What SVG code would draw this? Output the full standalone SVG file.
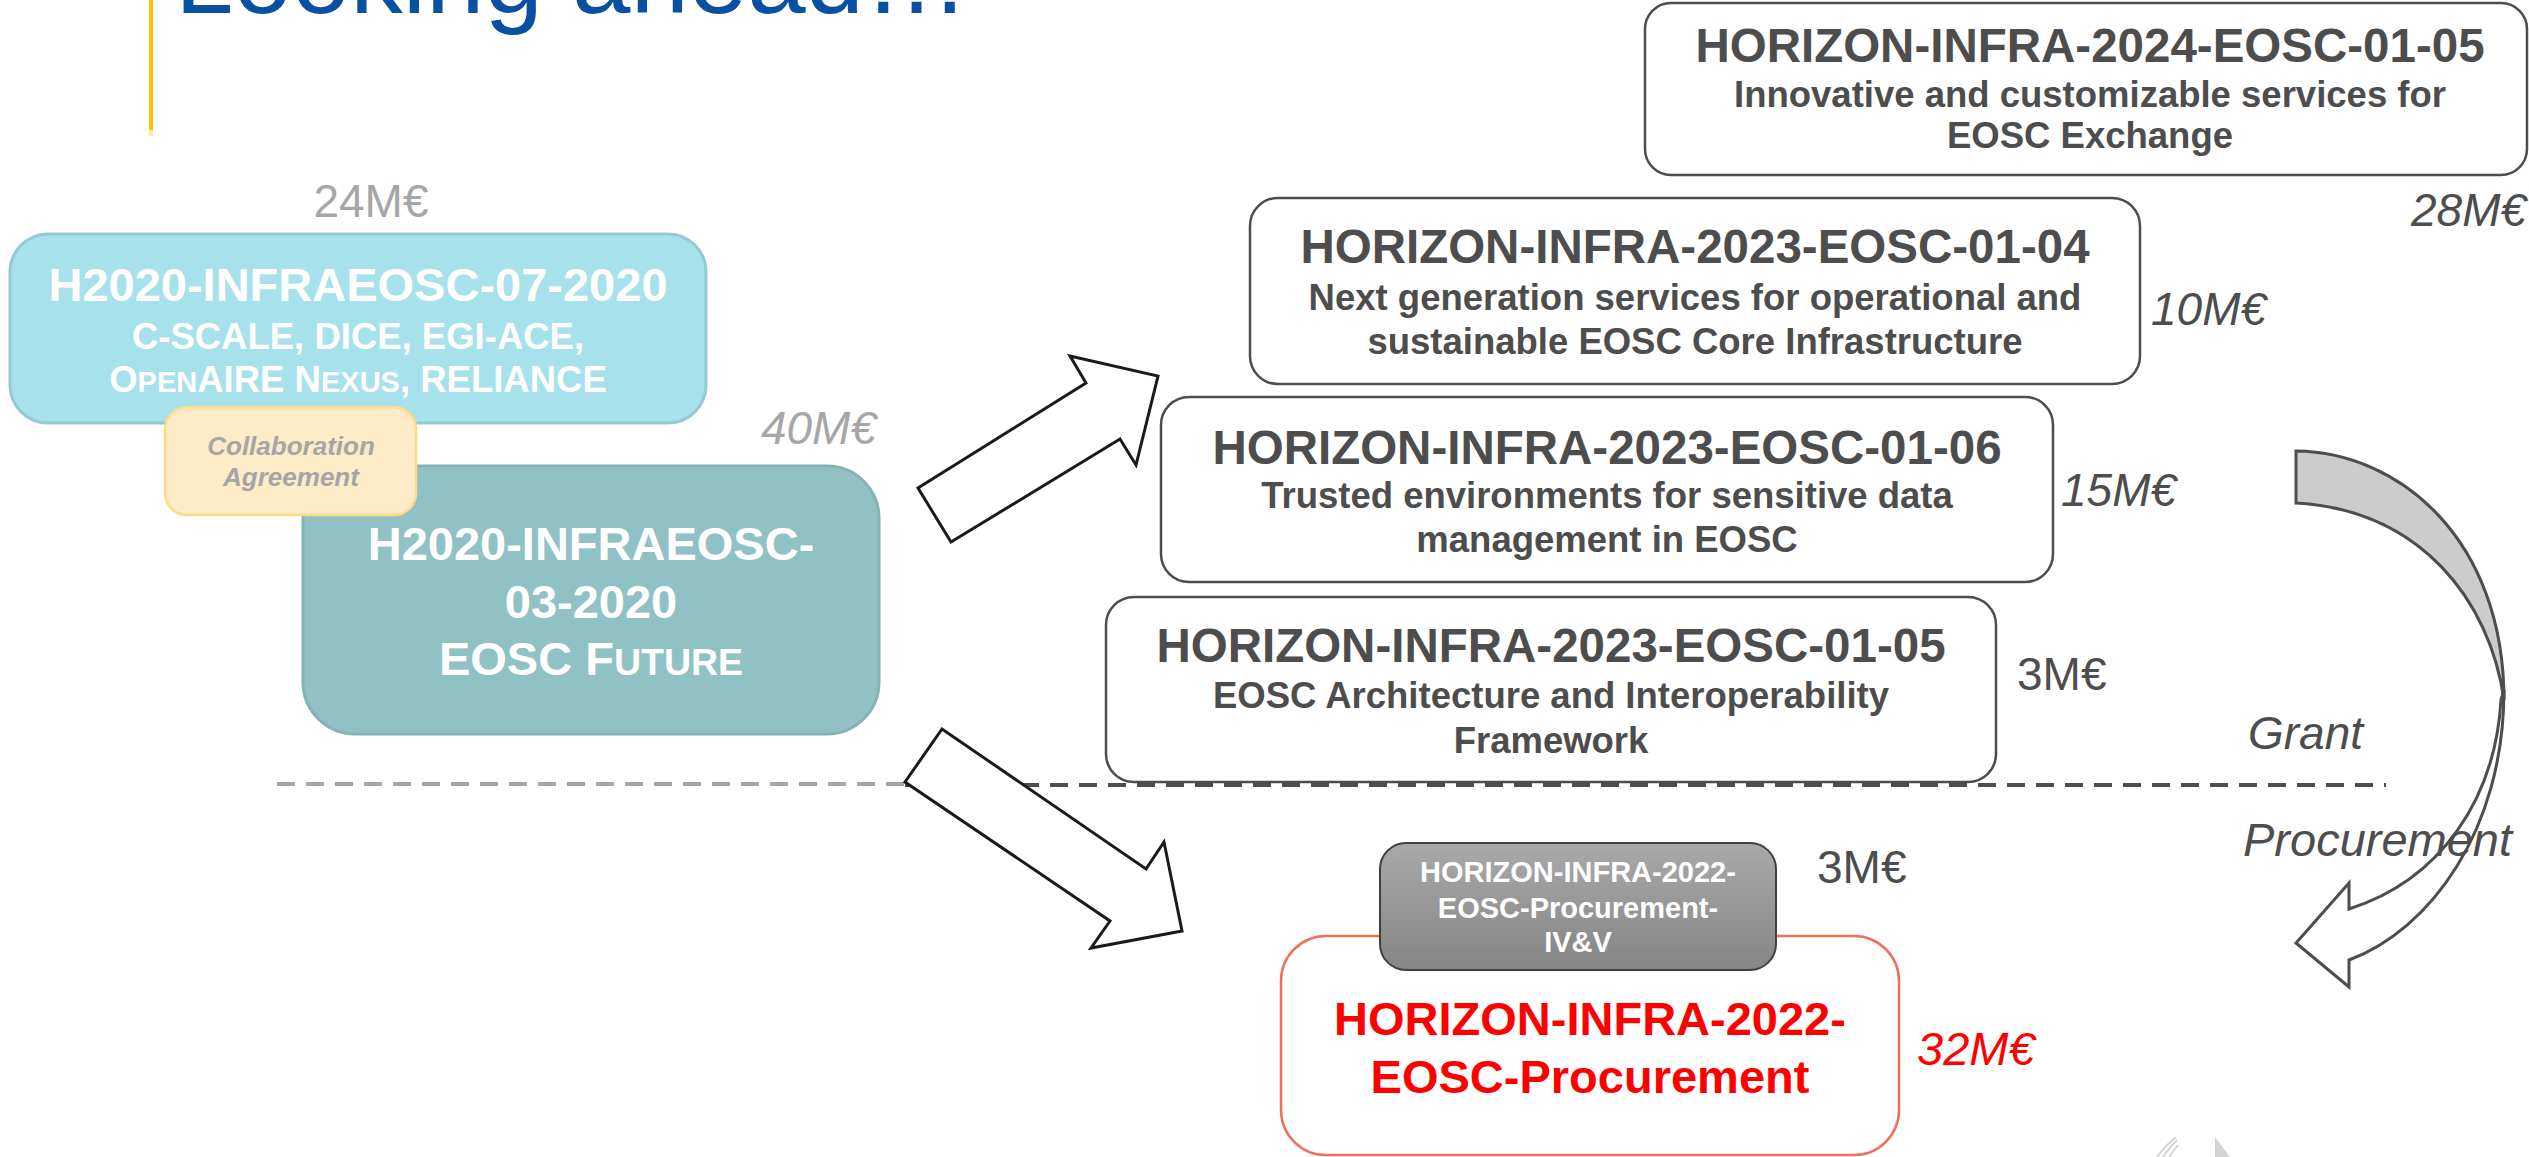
<svg xmlns="http://www.w3.org/2000/svg" width="2529" height="1157" viewBox="0 0 2529 1157">
<style>
text{font-family:"Liberation Sans",Arial,sans-serif}
.b{font-weight:bold}
.i{font-style:italic}
.wt{fill:#FFFFFF;font-weight:bold}
.gt{fill:#4D4D4D;font-weight:bold}
.box{fill:#FFFFFF;stroke:#4D4D4D;stroke-width:2.5}
.amt{fill:#4D4D4D;font-size:46px}
.blk{fill:#FFFFFF;stroke:#1A1A1A;stroke-width:3;stroke-linejoin:miter}
</style>
<defs>
<linearGradient id="gg" x1="0" y1="0" x2="0" y2="1">
<stop offset="0" stop-color="#A9A9A9"/>
<stop offset="1" stop-color="#858585"/>
</linearGradient>
</defs>
<rect x="0" y="0" width="2529" height="1157" fill="#FFFFFF"/>

<g id="title">
<rect x="149" y="0" width="4" height="130" fill="#FFC000"/>
<rect x="149" y="130" width="4" height="6" fill="#FFE9A6"/>
<text x="175" y="13" font-size="105" fill="#0A50A1">Looking ahead…</text>
</g>

<g id="connectors">
<line x1="277" y1="784" x2="905" y2="784" stroke="#A6A6A6" stroke-width="4" stroke-dasharray="18 11"/>
<line x1="905" y1="785" x2="2386" y2="785" stroke="#4D4D4D" stroke-width="4" stroke-dasharray="18 11"/>
<polygon class="blk" points="951,542 918,488 1086,383 1070,356 1158,376 1136,465 1120,439"/>
<polygon class="blk" points="942,729 905,782 1110,921 1091,948 1182,931 1164,842 1146,869"/>
<path d="M2504,690 C2504,830 2430,930 2349,960 L2349,987 L2296,943 L2349,883 L2349,909 C2440,880 2495,800 2501,700 Z" fill="#FFFFFF" stroke="#4D4D4D" stroke-width="3"/>
<path d="M2296,451 C2400,452 2504,540 2504,700 C2490,600 2420,510 2296,503 Z" fill="#CCCCCC" stroke="#4D4D4D" stroke-width="3"/>
</g>

<g id="label-grant">
<text x="2248" y="749" font-size="46" class="i" fill="#4D4D4D">Grant</text>
</g>
<g id="label-procurement">
<text x="2243" y="856" font-size="47" class="i" fill="#4D4D4D">Procurement</text>
</g>

<g id="node-h2020-07">
<text x="371" y="217" font-size="46" fill="#A6A6A6" text-anchor="middle">24M€</text>
<rect x="10" y="234" width="696" height="189" rx="38" fill="#A7E1EC" stroke="#94CAD6" stroke-width="3"/>
<text x="358" y="301" font-size="47" class="wt" text-anchor="middle">H2020-INFRAEOSC-07-2020</text>
<text x="358" y="349" font-size="36.5" class="wt" text-anchor="middle">C-SCALE, DICE, EGI-ACE,</text>
<text x="358" y="392" font-size="36.5" class="wt" text-anchor="middle">O<tspan font-size="29">PEN</tspan>AIRE N<tspan font-size="29">EXUS</tspan>, RELIANCE</text>
</g>

<g id="node-h2020-03">
<text x="876" y="444" font-size="46" class="i" fill="#A6A6A6" text-anchor="end">40M€</text>
<rect x="303" y="466" width="576" height="268" rx="52" fill="#90C1C4" stroke="#84B3B6" stroke-width="3"/>
<text x="591" y="560" font-size="47" class="wt" text-anchor="middle">H2020-INFRAEOSC-</text>
<text x="591" y="618" font-size="47" class="wt" text-anchor="middle">03-2020</text>
<text x="591" y="675" font-size="47" class="wt" text-anchor="middle">EOSC F<tspan font-size="37.5">UTURE</tspan></text>
</g>

<g id="node-collab">
<rect x="165" y="407" width="251" height="108" rx="22" fill="#FEEBC8" stroke="#FCDD86" stroke-width="2.5"/>
<text x="291" y="455" font-size="26" class="b i" fill="#A6A6A6" text-anchor="middle">Collaboration</text>
<text x="291" y="486" font-size="26" class="b i" fill="#A6A6A6" text-anchor="middle">Agreement</text>
</g>

<g id="node-2024-01-05">
<rect class="box" x="1645" y="3" width="882" height="172" rx="26"/>
<text x="2090" y="62" font-size="47.5" class="gt" text-anchor="middle">HORIZON-INFRA-2024-EOSC-01-05</text>
<text x="2090" y="107" font-size="36.5" class="gt" text-anchor="middle">Innovative and customizable services for</text>
<text x="2090" y="148" font-size="36.5" class="gt" text-anchor="middle">EOSC Exchange</text>
<text x="2411" y="226" class="amt i">28M€</text>
</g>

<g id="node-2023-01-04">
<rect class="box" x="1250" y="198" width="890" height="186" rx="28"/>
<text x="1695" y="263" font-size="47.5" class="gt" text-anchor="middle">HORIZON-INFRA-2023-EOSC-01-04</text>
<text x="1695" y="310" font-size="36.5" class="gt" text-anchor="middle">Next generation services for operational and</text>
<text x="1695" y="354" font-size="36.5" class="gt" text-anchor="middle">sustainable EOSC Core Infrastructure</text>
<text x="2151" y="325" class="amt i">10M€</text>
</g>

<g id="node-2023-01-06">
<rect class="box" x="1161" y="397" width="892" height="185" rx="28"/>
<text x="1607" y="464" font-size="47.5" class="gt" text-anchor="middle">HORIZON-INFRA-2023-EOSC-01-06</text>
<text x="1607" y="508" font-size="36.5" class="gt" text-anchor="middle">Trusted environments for sensitive data</text>
<text x="1607" y="552" font-size="36.5" class="gt" text-anchor="middle">management in EOSC</text>
<text x="2061" y="506" class="amt i">15M€</text>
</g>

<g id="node-2023-01-05">
<rect class="box" x="1106" y="597" width="890" height="185" rx="28"/>
<text x="1551" y="662" font-size="47.5" class="gt" text-anchor="middle">HORIZON-INFRA-2023-EOSC-01-05</text>
<text x="1551" y="708" font-size="36.5" class="gt" text-anchor="middle">EOSC Architecture and Interoperability</text>
<text x="1551" y="753" font-size="36.5" class="gt" text-anchor="middle">Framework</text>
<text x="2017" y="690" class="amt">3M€</text>
</g>

<g id="node-2022-procurement">
<rect x="1281" y="936" width="618" height="219" rx="45" fill="#FFFFFF" stroke="#EE7055" stroke-width="2.5"/>
<text x="1590" y="1035" font-size="47" class="b" fill="#FF0000" text-anchor="middle">HORIZON-INFRA-2022-</text>
<text x="1590" y="1093" font-size="47" class="b" fill="#FF0000" text-anchor="middle">EOSC-Procurement</text>
<text x="1917" y="1065" font-size="47" class="i" fill="#FF0000">32M€</text>
</g>

<g id="node-2022-ivv">
<rect x="1380" y="843" width="396" height="127" rx="26" fill="url(#gg)" stroke="#404040" stroke-width="2"/>
<text x="1578" y="882" font-size="29" class="wt" text-anchor="middle">HORIZON-INFRA-2022-</text>
<text x="1578" y="918" font-size="29" class="wt" text-anchor="middle">EOSC-Procurement-</text>
<text x="1578" y="952" font-size="29" class="wt" text-anchor="middle">IV&amp;V</text>
<text x="1817" y="883" class="amt">3M€</text>
</g>

<g id="logo-fragment" fill="none" stroke="#D4D4D4" stroke-width="2">
<path d="M2157,1157 Q2165,1146 2176,1137"/>
<path d="M2163,1157 Q2170,1147 2177,1140"/>
<path d="M2169,1157 Q2174,1150 2178,1145"/>
<polygon points="2215,1137 2230,1157 2215,1157" fill="#D4D4D4" stroke="none"/>
</g>
</svg>
